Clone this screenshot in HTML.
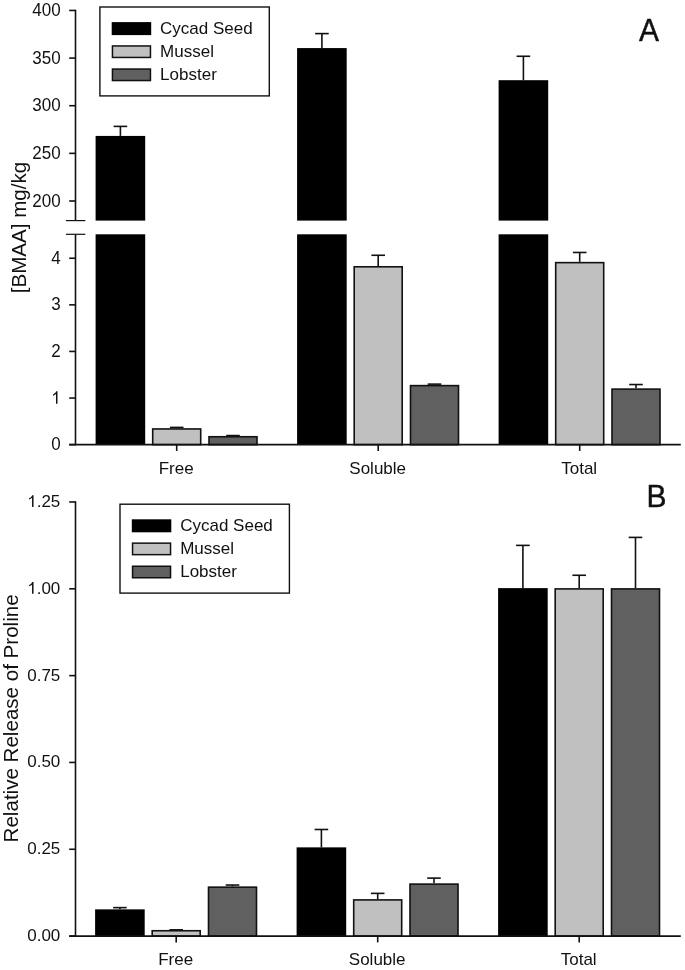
<!DOCTYPE html>
<html><head><meta charset="utf-8"><title>BMAA chart</title>
<style>
html,body{margin:0;padding:0;background:#fff;}
body{width:685px;height:970px;overflow:hidden;}
svg{display:block;-webkit-font-smoothing:antialiased;will-change:transform;font-family:"Liberation Sans", sans-serif;fill:#111;}
svg text{fill:#111;}
</style></head>
<body>
<svg width="685" height="970" viewBox="0 0 685 970">
<rect x="0" y="0" width="685" height="970" fill="#fff"/>
<rect x="95.60" y="135.92" width="49.60" height="84.68" fill="#000"/>
<rect x="95.60" y="234.30" width="49.60" height="210.35" fill="#000"/>
<line x1="120.40" y1="135.92" x2="120.40" y2="126.39" stroke="#111" stroke-width="1.6"/>
<line x1="113.60" y1="126.39" x2="127.20" y2="126.39" stroke="#111" stroke-width="1.6"/>
<line x1="176.70" y1="428.15" x2="176.70" y2="427.41" stroke="#111" stroke-width="1.6"/>
<line x1="169.90" y1="427.41" x2="183.50" y2="427.41" stroke="#111" stroke-width="1.6"/>
<rect x="152.70" y="428.95" width="48.00" height="15.70" fill="#c0c0c0" stroke="#111" stroke-width="1.6"/>
<line x1="233.00" y1="435.94" x2="233.00" y2="435.56" stroke="#111" stroke-width="1.6"/>
<line x1="226.20" y1="435.56" x2="239.80" y2="435.56" stroke="#111" stroke-width="1.6"/>
<rect x="209.00" y="436.74" width="48.00" height="7.91" fill="#606060" stroke="#111" stroke-width="1.6"/>
<rect x="297.10" y="48.08" width="49.60" height="172.52" fill="#000"/>
<rect x="297.10" y="234.30" width="49.60" height="210.35" fill="#000"/>
<line x1="321.90" y1="48.08" x2="321.90" y2="33.60" stroke="#111" stroke-width="1.6"/>
<line x1="315.10" y1="33.60" x2="328.70" y2="33.60" stroke="#111" stroke-width="1.6"/>
<line x1="378.20" y1="265.99" x2="378.20" y2="255.27" stroke="#111" stroke-width="1.6"/>
<line x1="371.40" y1="255.27" x2="385.00" y2="255.27" stroke="#111" stroke-width="1.6"/>
<rect x="354.20" y="266.79" width="48.00" height="177.86" fill="#c0c0c0" stroke="#111" stroke-width="1.6"/>
<line x1="434.50" y1="384.82" x2="434.50" y2="384.12" stroke="#111" stroke-width="1.6"/>
<line x1="427.70" y1="384.12" x2="441.30" y2="384.12" stroke="#111" stroke-width="1.6"/>
<rect x="410.50" y="385.62" width="48.00" height="59.03" fill="#606060" stroke="#111" stroke-width="1.6"/>
<rect x="498.60" y="80.19" width="49.60" height="140.41" fill="#000"/>
<rect x="498.60" y="234.30" width="49.60" height="210.35" fill="#000"/>
<line x1="523.40" y1="80.19" x2="523.40" y2="56.27" stroke="#111" stroke-width="1.6"/>
<line x1="516.60" y1="56.27" x2="530.20" y2="56.27" stroke="#111" stroke-width="1.6"/>
<line x1="579.70" y1="261.84" x2="579.70" y2="252.47" stroke="#111" stroke-width="1.6"/>
<line x1="572.90" y1="252.47" x2="586.50" y2="252.47" stroke="#111" stroke-width="1.6"/>
<rect x="555.70" y="262.64" width="48.00" height="182.01" fill="#c0c0c0" stroke="#111" stroke-width="1.6"/>
<line x1="636.00" y1="388.31" x2="636.00" y2="384.54" stroke="#111" stroke-width="1.6"/>
<line x1="629.20" y1="384.54" x2="642.80" y2="384.54" stroke="#111" stroke-width="1.6"/>
<rect x="612.00" y="389.11" width="48.00" height="55.54" fill="#606060" stroke="#111" stroke-width="1.6"/>
<line x1="75.50" y1="9.75" x2="75.50" y2="220.60" stroke="#111" stroke-width="1.6"/>
<line x1="75.50" y1="234.30" x2="75.50" y2="445.35" stroke="#111" stroke-width="1.6"/>
<line x1="65.90" y1="220.60" x2="85.30" y2="220.60" stroke="#111" stroke-width="1.2"/>
<line x1="65.90" y1="234.30" x2="85.30" y2="234.30" stroke="#111" stroke-width="1.2"/>
<line x1="69.20" y1="10.45" x2="75.50" y2="10.45" stroke="#111" stroke-width="1.6"/>
<text transform="translate(60.60,16.05) scale(1,1.05)" font-size="17" text-anchor="end" >400</text>
<line x1="69.20" y1="58.08" x2="75.50" y2="58.08" stroke="#111" stroke-width="1.6"/>
<text transform="translate(60.60,63.68) scale(1,1.05)" font-size="17" text-anchor="end" >350</text>
<line x1="69.20" y1="105.72" x2="75.50" y2="105.72" stroke="#111" stroke-width="1.6"/>
<text transform="translate(60.60,111.32) scale(1,1.05)" font-size="17" text-anchor="end" >300</text>
<line x1="69.20" y1="153.35" x2="75.50" y2="153.35" stroke="#111" stroke-width="1.6"/>
<text transform="translate(60.60,158.95) scale(1,1.05)" font-size="17" text-anchor="end" >250</text>
<line x1="69.20" y1="200.99" x2="75.50" y2="200.99" stroke="#111" stroke-width="1.6"/>
<text transform="translate(60.60,206.59) scale(1,1.05)" font-size="17" text-anchor="end" >200</text>
<line x1="69.20" y1="444.65" x2="75.50" y2="444.65" stroke="#111" stroke-width="1.6"/>
<text transform="translate(60.60,450.25) scale(1,1.05)" font-size="17" text-anchor="end" >0</text>
<line x1="69.20" y1="398.05" x2="75.50" y2="398.05" stroke="#111" stroke-width="1.6"/>
<path transform="translate(51.15,403.65) scale(0.00830,-0.00838)" d="M763,0 L583,0 L583,1147 Q518,1085 415,1024.5 Q312,964 223,931 L223,1105 Q375,1176 473,1265 Q571,1354 611,1466 L763,1466 Z" fill="#111"/>
<line x1="69.20" y1="351.45" x2="75.50" y2="351.45" stroke="#111" stroke-width="1.6"/>
<text transform="translate(60.60,357.05) scale(1,1.05)" font-size="17" text-anchor="end" >2</text>
<line x1="69.20" y1="304.85" x2="75.50" y2="304.85" stroke="#111" stroke-width="1.6"/>
<text transform="translate(60.60,310.45) scale(1,1.05)" font-size="17" text-anchor="end" >3</text>
<line x1="69.20" y1="258.25" x2="75.50" y2="258.25" stroke="#111" stroke-width="1.6"/>
<text transform="translate(60.60,263.85) scale(1,1.05)" font-size="17" text-anchor="end" >4</text>
<line x1="69.20" y1="444.65" x2="680.80" y2="444.65" stroke="#111" stroke-width="1.6"/>
<line x1="176.70" y1="444.65" x2="176.70" y2="450.95" stroke="#111" stroke-width="1.6"/>
<text x="176.20" y="474.00" font-size="17" text-anchor="middle" >Free</text>
<line x1="378.20" y1="444.65" x2="378.20" y2="450.95" stroke="#111" stroke-width="1.6"/>
<text x="377.70" y="474.00" font-size="17" text-anchor="middle" >Soluble</text>
<line x1="579.70" y1="444.65" x2="579.70" y2="450.95" stroke="#111" stroke-width="1.6"/>
<text x="579.20" y="474.00" font-size="17" text-anchor="middle" >Total</text>
<text transform="translate(639.00,41.10) scale(1,1.04)" font-size="30" text-anchor="start" stroke="#111" stroke-width="0.4">A</text>
<text transform="translate(25.6,227.5) rotate(-90) scale(1.05,1)" font-size="19.6" text-anchor="middle">[BMAA] mg/kg</text>
<rect x="99.90" y="7.00" width="169.40" height="88.90" fill="#fff" stroke="#111" stroke-width="1.4"/>
<rect x="111.70" y="22.10" width="39.50" height="13.00" fill="#000"/>
<text x="160.10" y="33.80" font-size="17" text-anchor="start" >Cycad Seed</text>
<rect x="112.45" y="45.95" width="38.00" height="11.50" fill="#c0c0c0" stroke="#111" stroke-width="1.5"/>
<text x="160.10" y="57.00" font-size="17" text-anchor="start" >Mussel</text>
<rect x="112.45" y="69.05" width="38.00" height="11.50" fill="#606060" stroke="#111" stroke-width="1.5"/>
<text x="160.10" y="80.00" font-size="17" text-anchor="start" >Lobster</text>
<line x1="119.90" y1="909.36" x2="119.90" y2="907.62" stroke="#111" stroke-width="1.6"/>
<line x1="113.10" y1="907.62" x2="126.70" y2="907.62" stroke="#111" stroke-width="1.6"/>
<rect x="95.10" y="909.36" width="49.60" height="26.74" fill="#000"/>
<line x1="176.20" y1="929.95" x2="176.20" y2="929.85" stroke="#111" stroke-width="1.6"/>
<line x1="169.40" y1="929.85" x2="183.00" y2="929.85" stroke="#111" stroke-width="1.6"/>
<rect x="152.20" y="930.75" width="48.00" height="5.35" fill="#c0c0c0" stroke="#111" stroke-width="1.6"/>
<line x1="232.50" y1="886.37" x2="232.50" y2="885.05" stroke="#111" stroke-width="1.6"/>
<line x1="225.70" y1="885.05" x2="239.30" y2="885.05" stroke="#111" stroke-width="1.6"/>
<rect x="208.50" y="887.17" width="48.00" height="48.93" fill="#606060" stroke="#111" stroke-width="1.6"/>
<line x1="321.40" y1="847.36" x2="321.40" y2="829.48" stroke="#111" stroke-width="1.6"/>
<line x1="314.60" y1="829.48" x2="328.20" y2="829.48" stroke="#111" stroke-width="1.6"/>
<rect x="296.60" y="847.36" width="49.60" height="88.74" fill="#000"/>
<line x1="377.70" y1="899.11" x2="377.70" y2="893.38" stroke="#111" stroke-width="1.6"/>
<line x1="370.90" y1="893.38" x2="384.50" y2="893.38" stroke="#111" stroke-width="1.6"/>
<rect x="353.70" y="899.91" width="48.00" height="36.19" fill="#c0c0c0" stroke="#111" stroke-width="1.6"/>
<line x1="434.00" y1="883.31" x2="434.00" y2="878.10" stroke="#111" stroke-width="1.6"/>
<line x1="427.20" y1="878.10" x2="440.80" y2="878.10" stroke="#111" stroke-width="1.6"/>
<rect x="410.00" y="884.11" width="48.00" height="51.99" fill="#606060" stroke="#111" stroke-width="1.6"/>
<line x1="522.90" y1="588.11" x2="522.90" y2="545.39" stroke="#111" stroke-width="1.6"/>
<line x1="516.10" y1="545.39" x2="529.70" y2="545.39" stroke="#111" stroke-width="1.6"/>
<rect x="498.10" y="588.11" width="49.60" height="347.99" fill="#000"/>
<line x1="579.20" y1="588.11" x2="579.20" y2="575.26" stroke="#111" stroke-width="1.6"/>
<line x1="572.40" y1="575.26" x2="586.00" y2="575.26" stroke="#111" stroke-width="1.6"/>
<rect x="555.20" y="588.91" width="48.00" height="347.19" fill="#c0c0c0" stroke="#111" stroke-width="1.6"/>
<line x1="635.50" y1="588.11" x2="635.50" y2="537.40" stroke="#111" stroke-width="1.6"/>
<line x1="628.70" y1="537.40" x2="642.30" y2="537.40" stroke="#111" stroke-width="1.6"/>
<rect x="611.50" y="588.91" width="48.00" height="347.19" fill="#606060" stroke="#111" stroke-width="1.6"/>
<line x1="75.50" y1="501.28" x2="75.50" y2="936.80" stroke="#111" stroke-width="1.6"/>
<line x1="69.20" y1="501.98" x2="75.50" y2="501.98" stroke="#111" stroke-width="1.6"/>
<path transform="translate(27.21,506.98) scale(0.00830,-0.00798)" d="M763,0 L583,0 L583,1147 Q518,1085 415,1024.5 Q312,964 223,931 L223,1105 Q375,1176 473,1265 Q571,1354 611,1466 L763,1466 Z" fill="#111"/>
<text x="60.30" y="506.98" font-size="17" text-anchor="end" >.25</text>
<line x1="69.20" y1="588.80" x2="75.50" y2="588.80" stroke="#111" stroke-width="1.6"/>
<path transform="translate(27.21,593.80) scale(0.00830,-0.00798)" d="M763,0 L583,0 L583,1147 Q518,1085 415,1024.5 Q312,964 223,931 L223,1105 Q375,1176 473,1265 Q571,1354 611,1466 L763,1466 Z" fill="#111"/>
<text x="60.30" y="593.80" font-size="17" text-anchor="end" >.00</text>
<line x1="69.20" y1="675.62" x2="75.50" y2="675.62" stroke="#111" stroke-width="1.6"/>
<text x="60.30" y="680.62" font-size="17" text-anchor="end" >0.75</text>
<line x1="69.20" y1="762.45" x2="75.50" y2="762.45" stroke="#111" stroke-width="1.6"/>
<text x="60.30" y="767.45" font-size="17" text-anchor="end" >0.50</text>
<line x1="69.20" y1="849.27" x2="75.50" y2="849.27" stroke="#111" stroke-width="1.6"/>
<text x="60.30" y="854.27" font-size="17" text-anchor="end" >0.25</text>
<line x1="69.20" y1="936.10" x2="75.50" y2="936.10" stroke="#111" stroke-width="1.6"/>
<text x="60.30" y="941.10" font-size="17" text-anchor="end" >0.00</text>
<line x1="69.20" y1="936.10" x2="680.80" y2="936.10" stroke="#111" stroke-width="1.6"/>
<line x1="176.20" y1="936.10" x2="176.20" y2="942.40" stroke="#111" stroke-width="1.6"/>
<text x="175.70" y="965.40" font-size="17" text-anchor="middle" >Free</text>
<line x1="377.70" y1="936.10" x2="377.70" y2="942.40" stroke="#111" stroke-width="1.6"/>
<text x="377.20" y="965.40" font-size="17" text-anchor="middle" >Soluble</text>
<line x1="579.20" y1="936.10" x2="579.20" y2="942.40" stroke="#111" stroke-width="1.6"/>
<text x="578.70" y="965.40" font-size="17" text-anchor="middle" >Total</text>
<text transform="translate(646.40,506.90) scale(1,1.04)" font-size="30" text-anchor="start" stroke="#111" stroke-width="0.4">B</text>
<text transform="translate(17.7,718.4) rotate(-90) scale(1.05,1)" font-size="19.6" text-anchor="middle">Relative Release of Proline</text>
<rect x="120.00" y="504.20" width="169.40" height="88.90" fill="#fff" stroke="#111" stroke-width="1.4"/>
<rect x="131.80" y="519.30" width="39.50" height="13.00" fill="#000"/>
<text x="180.20" y="531.00" font-size="17" text-anchor="start" >Cycad Seed</text>
<rect x="132.55" y="543.15" width="38.00" height="11.50" fill="#c0c0c0" stroke="#111" stroke-width="1.5"/>
<text x="180.20" y="554.20" font-size="17" text-anchor="start" >Mussel</text>
<rect x="132.55" y="566.25" width="38.00" height="11.50" fill="#606060" stroke="#111" stroke-width="1.5"/>
<text x="180.20" y="577.20" font-size="17" text-anchor="start" >Lobster</text>
</svg>
</body></html>
